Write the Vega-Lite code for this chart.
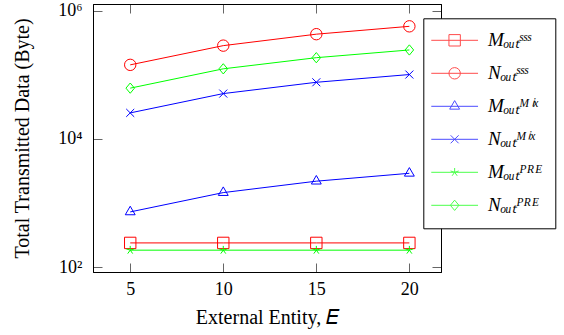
{
  "$schema": "https://vega.github.io/schema/vega-lite/v6.json",
  "width": 348,
  "height": 268,
  "autosize": "none",
  "padding": {"left": 93, "top": 4, "right": 123, "bottom": 63},
  "config": {
    "view": {"stroke": "black", "strokeWidth": 1},
    "font": "Liberation Serif",
    "axis": {
      "grid": false,
      "domain": true,
      "domainColor": "black",
      "domainWidth": 1,
      "ticks": true,
      "tickColor": "#666666",
      "tickWidth": 1,
      "tickSize": -9,
      "labelFont": "Liberation Serif",
      "labelFontSize": 18,
      "labelColor": "black",
      "titleFont": "Liberation Serif",
      "titleFontSize": 20,
      "titleFontWeight": "normal",
      "titleColor": "black"
    }
  },
  "data": {
    "values": [
      {"E": 5, "series": "Mₒᵤₜˢˢˢ", "value": 240},
      {"E": 10, "series": "Mₒᵤₜˢˢˢ", "value": 240},
      {"E": 15, "series": "Mₒᵤₜˢˢˢ", "value": 240},
      {"E": 20, "series": "Mₒᵤₜˢˢˢ", "value": 240},
      {"E": 5, "series": "Nₒᵤₜˢˢˢ", "value": 143000},
      {"E": 10, "series": "Nₒᵤₜˢˢˢ", "value": 285000},
      {"E": 15, "series": "Nₒᵤₜˢˢˢ", "value": 430000},
      {"E": 20, "series": "Nₒᵤₜˢˢˢ", "value": 570000},
      {"E": 5, "series": "Mₒᵤₜᴹⁱˣ", "value": 730},
      {"E": 10, "series": "Mₒᵤₜᴹⁱˣ", "value": 1460},
      {"E": 15, "series": "Mₒᵤₜᴹⁱˣ", "value": 2200},
      {"E": 20, "series": "Mₒᵤₜᴹⁱˣ", "value": 2920},
      {"E": 5, "series": "Nₒᵤₜᴹⁱˣ", "value": 25500},
      {"E": 10, "series": "Nₒᵤₜᴹⁱˣ", "value": 51000},
      {"E": 15, "series": "Nₒᵤₜᴹⁱˣ", "value": 76500},
      {"E": 20, "series": "Nₒᵤₜᴹⁱˣ", "value": 101000},
      {"E": 5, "series": "Mₒᵤₜᴾᴿᴱ", "value": 185},
      {"E": 10, "series": "Mₒᵤₜᴾᴿᴱ", "value": 185},
      {"E": 15, "series": "Mₒᵤₜᴾᴿᴱ", "value": 185},
      {"E": 20, "series": "Mₒᵤₜᴾᴿᴱ", "value": 185},
      {"E": 5, "series": "Nₒᵤₜᴾᴿᴱ", "value": 62000},
      {"E": 10, "series": "Nₒᵤₜᴾᴿᴱ", "value": 124000},
      {"E": 15, "series": "Nₒᵤₜᴾᴿᴱ", "value": 185000},
      {"E": 20, "series": "Nₒᵤₜᴾᴿᴱ", "value": 244000}
    ]
  },
  "layer": [
    {
      "mark": {"type": "line", "strokeWidth": 1},
      "encoding": {
        "x": {
          "field": "E", "type": "quantitative",
          "scale": {"domain": [3, 21.7], "nice": false, "zero": false},
          "axis": {"orient": "bottom", "values": [5, 10, 15, 20], "title": "External Entity, 𝐸", "labelPadding": 17, "titlePadding": 9}
        },
        "y": {
          "field": "value", "type": "quantitative",
          "scale": {"type": "log", "domain": [84.5, 1270000], "nice": false},
          "axis": {"orient": "left", "values": [100, 10000, 1000000], "labelExpr": "datum.value == 100 ? '10²' : datum.value == 10000 ? '10⁴' : '10⁶'", "title": "Total Transmitted Data (Byte)", "labelPadding": 20, "titlePadding": 25}
        },
        "color": {
          "field": "series", "type": "nominal",
          "scale": {"domain": ["Mₒᵤₜˢˢˢ", "Nₒᵤₜˢˢˢ", "Mₒᵤₜᴹⁱˣ", "Nₒᵤₜᴹⁱˣ", "Mₒᵤₜᴾᴿᴱ", "Nₒᵤₜᴾᴿᴱ"], "range": ["#ff0000", "#ff0000", "#0000ff", "#0000ff", "#00ff00", "#00ff00"]},
          "legend": null
        }
      }
    },
    {
      "mark": {"type": "point", "filled": false, "strokeWidth": 1, "size": 130, "opacity": 1},
      "encoding": {
        "x": {"field": "E", "type": "quantitative", "axis": null},
        "y": {"field": "value", "type": "quantitative", "axis": null},
        "color": {
          "field": "series", "type": "nominal",
          "scale": {"domain": ["Mₒᵤₜˢˢˢ", "Nₒᵤₜˢˢˢ", "Mₒᵤₜᴹⁱˣ", "Nₒᵤₜᴹⁱˣ", "Mₒᵤₜᴾᴿᴱ", "Nₒᵤₜᴾᴿᴱ"], "range": ["#ff0000", "#ff0000", "#0000ff", "#0000ff", "#00ff00", "#00ff00"]},
          "legend": null
        },
        "shape": {
          "field": "series", "type": "nominal",
          "scale": {"domain": ["Mₒᵤₜˢˢˢ", "Nₒᵤₜˢˢˢ", "Mₒᵤₜᴹⁱˣ", "Nₒᵤₜᴹⁱˣ", "Mₒᵤₜᴾᴿᴱ", "Nₒᵤₜᴾᴿᴱ"], "range": [
            "square",
            "circle",
            "M0,-1L0.866,0.5L-0.866,0.5Z",
            "M-0.7,-0.7L0.7,0.7M-0.7,0.7L0.7,-0.7",
            "M0,0L0,-0.75M0,0L0.713,-0.232M0,0L0.441,0.607M0,0L-0.441,0.607M0,0L-0.713,-0.232",
            "M0,-0.9L0.75,0L0,0.9L-0.75,0Z"
          ]},
          "legend": null
        }
      }
    },
    {
      "transform": [{"filter": "datum.E < 0"}],
      "mark": {"type": "point", "filled": false, "strokeWidth": 1, "size": 130},
      "encoding": {
        "x": {"field": "E", "type": "quantitative", "axis": {"orient": "top", "values": [5, 10, 15, 20], "labels": false, "title": null}},
        "y": {"field": "value", "type": "quantitative", "axis": {"orient": "right", "values": [100, 10000, 1000000], "labels": false, "title": null}},
        "color": {
          "field": "series", "type": "nominal",
          "scale": {"domain": ["Mₒᵤₜˢˢˢ", "Nₒᵤₜˢˢˢ", "Mₒᵤₜᴹⁱˣ", "Nₒᵤₜᴹⁱˣ", "Mₒᵤₜᴾᴿᴱ", "Nₒᵤₜᴾᴿᴱ"], "range": ["#ff0000", "#ff0000", "#0000ff", "#0000ff", "#00ff00", "#00ff00"]},
          "legend": {"title": null, "orient": "none", "legendX": 330.3, "legendY": 14.3, "padding": 12.5, "fillColor": "white", "strokeColor": "black", "symbolSize": 130, "symbolStrokeWidth": 1, "labelOffset": 33.2, "labelFont": "Liberation Serif", "labelFontSize": 19, "labelFontStyle": "italic", "labelColor": "black", "rowPadding": 13}
        },
        "shape": {
          "field": "series", "type": "nominal",
          "scale": {"domain": ["Mₒᵤₜˢˢˢ", "Nₒᵤₜˢˢˢ", "Mₒᵤₜᴹⁱˣ", "Nₒᵤₜᴹⁱˣ", "Mₒᵤₜᴾᴿᴱ", "Nₒᵤₜᴾᴿᴱ"], "range": [
            "M-2.46,0H5.74M0.64,-1H2.64V1H0.64Z",
            "M-2.46,0H5.74M2.64,0A1,1,0,1,1,0.64,0A1,1,0,1,1,2.64,0",
            "M-2.46,0H5.74M1.64,-1L2.506,0.5L0.774,0.5Z",
            "M-2.46,0H5.74M0.94,-0.7L2.34,0.7M0.94,0.7L2.34,-0.7",
            "M-2.46,0H5.74M1.64,0L1.64,-0.75M1.64,0L2.353,-0.232M1.64,0L2.081,0.607M1.64,0L1.199,0.607M1.64,0L0.927,-0.232",
            "M-2.46,0H5.74M1.64,-0.9L2.39,0L1.64,0.9L0.89,0Z"
          ]},
          "legend": {"title": null, "orient": "none", "legendX": 330.3, "legendY": 14.3, "padding": 12.5, "fillColor": "white", "strokeColor": "black", "symbolSize": 130, "symbolStrokeWidth": 1, "labelOffset": 33.2, "labelFont": "Liberation Serif", "labelFontSize": 19, "labelFontStyle": "italic", "labelColor": "black", "rowPadding": 13}
        }
      }
    }
  ],
  "resolve": {
    "scale": {"color": "independent", "shape": "independent"},
    "axis": {"x": "independent", "y": "independent"}
  }
}
